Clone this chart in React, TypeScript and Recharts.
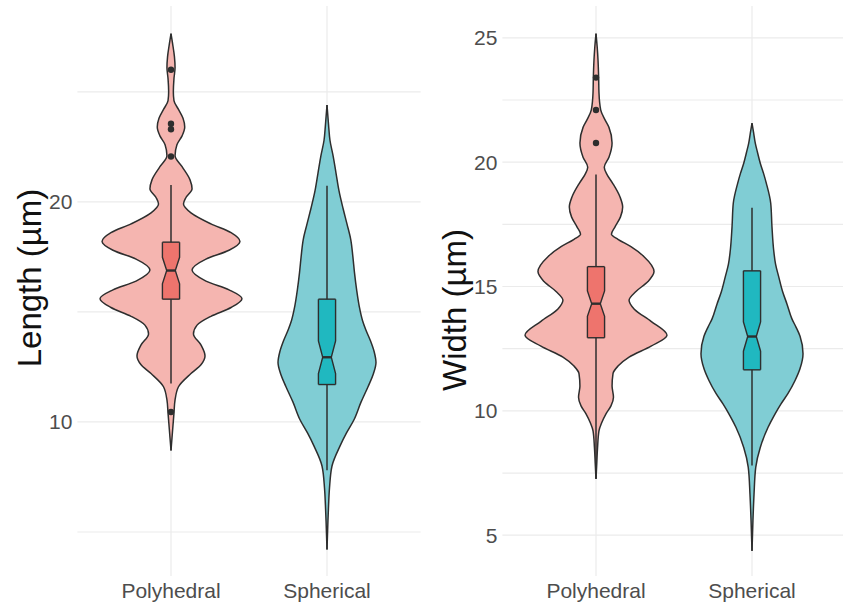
import React from "react";
import {
    ComposedChart, Area, XAxis, YAxis, CartesianGrid, ReferenceLine, ReferenceDot,
} from "recharts";

const CATEGORIES = ["Polyhedral", "Spherical"];

// violin outlines: [value (µm), half width in category units]
const lengthPolyViolin: [number, number][] = [
    [27.65, 0], [27.2, 0.01], [26.6, 0.022], [26.1, 0.026], [25.6, 0.019], [25.0, 0.015],
    [24.6, 0.019], [24.2, 0.048], [23.8, 0.077], [23.4, 0.088], [23.0, 0.071], [22.6, 0.038],
    [22.1, 0.026], [21.6, 0.071], [21.0, 0.122], [20.6, 0.135], [20.2, 0.096], [19.9, 0.08],
    [19.5, 0.128], [19.0, 0.256], [18.6, 0.385], [18.2, 0.442], [17.8, 0.372], [17.4, 0.224],
    [16.9, 0.135], [16.4, 0.224], [16.0, 0.372], [15.6, 0.455], [15.2, 0.385], [14.8, 0.256],
    [14.4, 0.167], [14.0, 0.144], [13.5, 0.192], [13.0, 0.218], [12.6, 0.192], [12.2, 0.128],
    [11.6, 0.048], [11.0, 0.026], [10.4, 0.019], [9.6, 0.01], [8.7, 0],
];
const lengthSphViolin: [number, number][] = [
    [24.4, 0], [23.5, 0.01], [22.8, 0.019], [22.06, 0.04], [21.3, 0.058], [20.5, 0.077],
    [19.7, 0.103], [19.0, 0.128], [18.3, 0.152], [17.5, 0.166], [16.8, 0.176], [16.0, 0.19],
    [15.24, 0.207], [14.6, 0.228], [14.2, 0.248], [13.7, 0.278], [13.2, 0.302], [12.7, 0.314],
    [12.2, 0.298], [11.6, 0.263], [10.9, 0.218], [10.1, 0.173], [9.5, 0.125], [8.9, 0.083],
    [8.0, 0.032], [7.0, 0.016], [6.2, 0.01], [5.5, 0.006], [4.2, 0],
];
const widthPolyViolin: [number, number][] = [
    [25.17, 0], [24.6, 0.008], [24.1, 0.013], [23.4, 0.017], [22.8, 0.019], [22.1, 0.03],
    [21.7, 0.058], [21.4, 0.083], [20.77, 0.103], [20.2, 0.083], [19.8, 0.053], [19.5, 0.071],
    [19.15, 0.107], [18.6, 0.154], [18.2, 0.171], [17.8, 0.157], [17.4, 0.122], [17.1, 0.099],
    [16.9, 0.141], [16.6, 0.224], [16.2, 0.308], [15.6, 0.372], [15.2, 0.333], [14.8, 0.256],
    [14.45, 0.212], [14.1, 0.244], [13.6, 0.353], [13.04, 0.455], [12.6, 0.353], [12.16, 0.212],
    [11.8, 0.141], [11.5, 0.109], [11.0, 0.103], [10.55, 0.112], [10.2, 0.096], [9.88, 0.064],
    [9.5, 0.035], [9.2, 0.019], [8.53, 0.01], [7.9, 0.005], [7.26, 0],
];
const widthSphViolin: [number, number][] = [
    [21.57, 0], [21.2, 0.01], [20.77, 0.021], [20.4, 0.035], [19.96, 0.053], [19.55, 0.074],
    [19.15, 0.092], [18.35, 0.12], [17.4, 0.128], [16.46, 0.139], [15.9, 0.151], [15.4, 0.171],
    [14.8, 0.196], [14.3, 0.224], [13.7, 0.256], [13.37, 0.282], [13.0, 0.308], [12.3, 0.327],
    [11.7, 0.308], [11.22, 0.276], [10.7, 0.231], [10.28, 0.186], [9.8, 0.141], [9.34, 0.103],
    [8.53, 0.053], [7.73, 0.024], [6.65, 0.013], [5.58, 0.006], [4.37, 0],
];

// box stats: [lower whisker, q1, notch low, median, notch high, q3, upper whisker]
const lengthPolyBox = [11.75, 15.58, 16.28, 16.88, 17.48, 18.17, 20.77];
const lengthSphBox = [7.8, 11.7, 12.2, 12.94, 13.68, 15.58, 20.73];
const widthPolyBox = [7.3, 12.94, 13.8, 14.31, 14.82, 15.8, 19.5];
const widthSphBox = [7.8, 11.65, 12.4, 12.99, 13.58, 15.63, 18.17];

const lengthPolyOutliers = [26.0, 23.55, 23.3, 22.06, 10.45];
const lengthSphOutliers: number[] = [];
const widthPolyOutliers = [23.4, 22.1, 20.77];
const widthSphOutliers: number[] = [];

const LENGTH_TICKS = [5, 10, 15, 20, 25];
const LENGTH_LABELS = [10, 20];
const WIDTH_TICKS = [5, 7.5, 10, 12.5, 15, 17.5, 20, 22.5, 25];
const WIDTH_LABELS = [5, 10, 15, 20, 25];

const VIOLIN_FILL = ["#F5B5B0", "#80CDD4"];
const BOX_FILL = ["#EE746D", "#20B8C0"];
const OUTLINE = "#2E2E2E";
const BOX_HW = 0.055;
const NOTCH_HW = 0.0275;

type Group = { violin: [number, number][]; box: number[]; outliers: number[] };

function buildRows(groups: Group[]) {
    const map = new Map<number, any>();
    const get = (y: number) => {
        if (!map.has(y)) map.set(y, { y });
        return map.get(y);
    };
    groups.forEach((g, i) => {
        const c = i + 1;
        g.violin.forEach(([y, hw]) => { get(y)[`v${i}`] = [c - hw, c + hw]; });
        const [, q1, nLo, med, nHi, q3] = g.box;
        [[q1, BOX_HW], [nLo, BOX_HW], [med, NOTCH_HW], [nHi, BOX_HW], [q3, BOX_HW]].forEach(([y, w]) => {
            get(y)[`b${i}`] = [c - w, c + w];
        });
    });
    const rows = [...map.values()].sort((a, b) => b.y - a.y);
    rows.forEach((r) => groups.forEach((_, i) => {
        if (!r[`v${i}`]) r[`v${i}`] = [null, null];
        if (!r[`b${i}`]) r[`b${i}`] = [null, null];
    }));
    return rows;
}

type PanelProps = {
    left: number;
    title: string;
    titleY: number;
    domain: [number, number];
    ticks: number[];
    labels: number[];
    groups: Group[];
};

function Panel({ left, title, titleY, domain, ticks, labels, groups }: PanelProps) {
    const rows = buildRows(groups);
    return (
        <div style={{ position: "absolute", left, top: 0, width: 425, height: 603 }}>
            <ComposedChart
                width={425} height={603} data={rows} layout="vertical"
                margin={{ top: 6, right: 4.4, bottom: 0, left: 0 }}
            >
                <CartesianGrid stroke="#EBEBEB" strokeWidth={1.2} syncWithTicks />
                <XAxis
                    type="number" domain={[0.4, 2.6]} allowDataOverflow ticks={[1, 2]} interval={0}
                    tickFormatter={(v) => CATEGORIES[v - 1]}
                    tick={{ fontSize: 21, fill: "#4D4D4D" }}
                    tickLine={false} axisLine={false} tickSize={0} tickMargin={7} height={27}
                />
                <YAxis
                    type="number" dataKey="y" domain={domain} allowDataOverflow ticks={ticks} interval={0}
                    reversed
                    tickFormatter={(v) => (labels.includes(v) ? String(v) : "")}
                    tick={{ fontSize: 21, fill: "#4D4D4D" }}
                    tickLine={false} axisLine={false} tickSize={0} tickMargin={5} width={77.4}
                />

                {/* violins */}
                {groups.map((_, i) => (
                    <Area
                        key={`v${i}`} dataKey={`v${i}`} type="monotone" connectNulls
                        fill={VIOLIN_FILL[i]} fillOpacity={1} stroke={OUTLINE} strokeWidth={1.5}
                        dot={false} activeDot={false} isAnimationActive={false}
                    />
                ))}

                {/* whiskers */}
                {groups.map((g, i) => [
                    <ReferenceLine
                        key={`wl${i}`} stroke={OUTLINE} strokeWidth={1.5}
                        segment={[{ x: i + 1, y: g.box[0] }, { x: i + 1, y: g.box[1] }]}
                    />,
                    <ReferenceLine
                        key={`wh${i}`} stroke={OUTLINE} strokeWidth={1.5}
                        segment={[{ x: i + 1, y: g.box[5] }, { x: i + 1, y: g.box[6] }]}
                    />,
                ])}

                {/* notched boxes */}
                {groups.map((_, i) => (
                    <Area
                        key={`b${i}`} dataKey={`b${i}`} type="linear" connectNulls
                        fill={BOX_FILL[i]} fillOpacity={1} stroke={OUTLINE} strokeWidth={1.4}
                        dot={false} activeDot={false} isAnimationActive={false}
                    />
                ))}
                {groups.map((g, i) => [
                    <ReferenceLine
                        key={`q1${i}`} stroke={OUTLINE} strokeWidth={1.4}
                        segment={[{ x: i + 1 - BOX_HW, y: g.box[1] }, { x: i + 1 + BOX_HW, y: g.box[1] }]}
                    />,
                    <ReferenceLine
                        key={`q3${i}`} stroke={OUTLINE} strokeWidth={1.4}
                        segment={[{ x: i + 1 - BOX_HW, y: g.box[5] }, { x: i + 1 + BOX_HW, y: g.box[5] }]}
                    />,
                    <ReferenceLine
                        key={`md${i}`} stroke={OUTLINE} strokeWidth={2.4}
                        segment={[{ x: i + 1 - NOTCH_HW, y: g.box[3] }, { x: i + 1 + NOTCH_HW, y: g.box[3] }]}
                    />,
                ])}

                {/* outliers */}
                {groups.map((g, i) => g.outliers.map((v, j) => (
                    <ReferenceDot key={`o${i}-${j}`} x={i + 1} y={v} r={3.2} fill={OUTLINE} stroke="none" />
                )))}
            </ComposedChart>
            <div
                style={{
                    position: "absolute", left: 30, top: titleY, fontSize: 33, color: "#111",
                    transform: "translate(-50%, -50%) rotate(-90deg)", whiteSpace: "nowrap",
                }}
            >
                {title}
            </div>
        </div>
    );
}

export default function App() {
    return (
        <div
            style={{
                position: "absolute", left: 0, top: 0, width: 843, height: 603, overflow: "hidden",
                background: "#fff", fontFamily: "'Liberation Sans', Arial, sans-serif",
            }}
        >
            <Panel
                left={0} title="Length (µm)" titleY={278} domain={[3.0, 28.9]}
                ticks={LENGTH_TICKS} labels={LENGTH_LABELS}
                groups={[
                    { violin: lengthPolyViolin, box: lengthPolyBox, outliers: lengthPolyOutliers },
                    { violin: lengthSphViolin, box: lengthSphBox, outliers: lengthSphOutliers },
                ]}
            />
            <Panel
                left={425} title="Width (µm)" titleY={310} domain={[3.36, 26.28]}
                ticks={WIDTH_TICKS} labels={WIDTH_LABELS}
                groups={[
                    { violin: widthPolyViolin, box: widthPolyBox, outliers: widthPolyOutliers },
                    { violin: widthSphViolin, box: widthSphBox, outliers: widthSphOutliers },
                ]}
            />
        </div>
    );
}
